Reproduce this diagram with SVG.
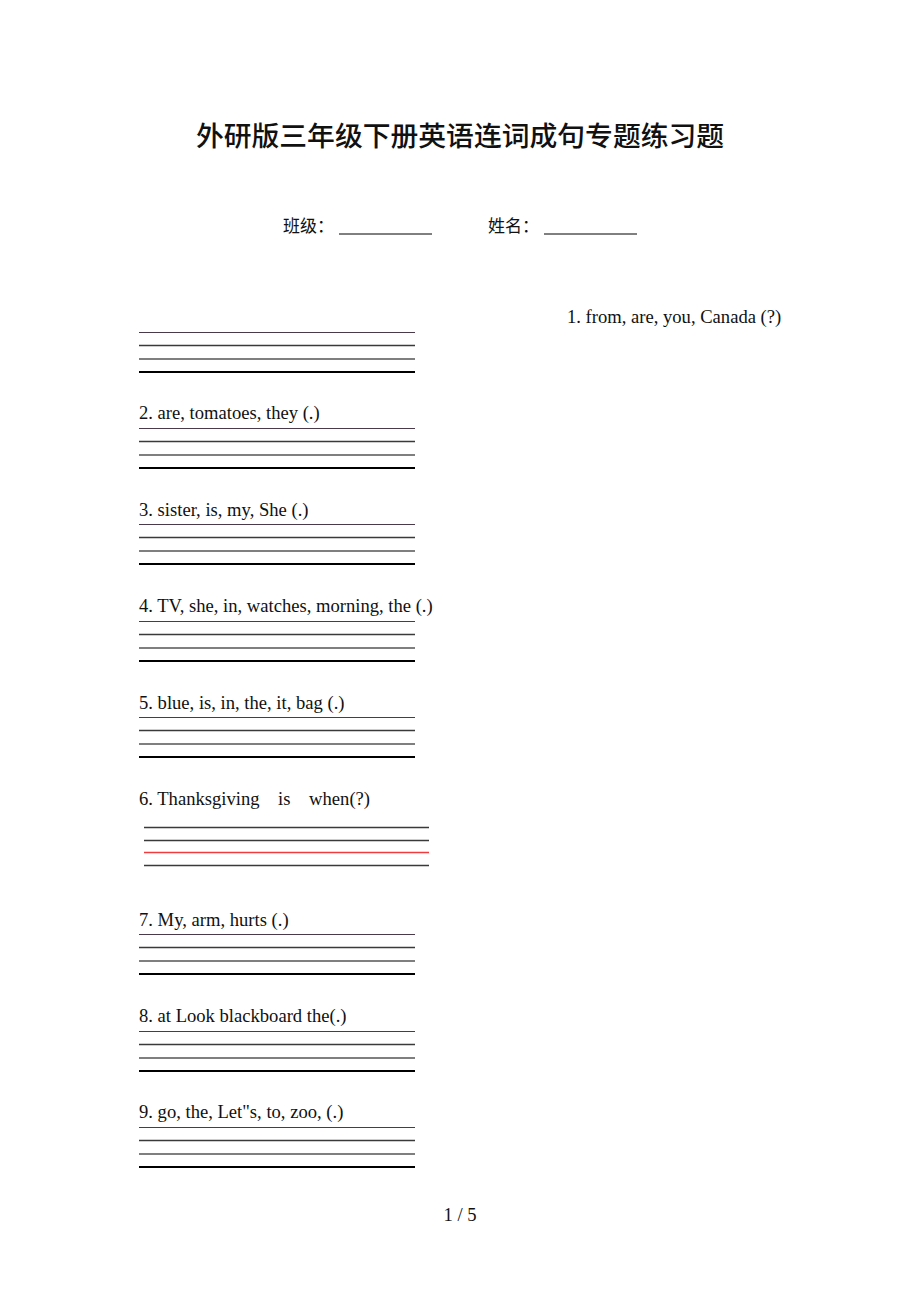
<svg xmlns="http://www.w3.org/2000/svg" width="920" height="1302" viewBox="0 0 920 1302">
<style>
.t{font-family:"Liberation Serif","Times New Roman",serif;font-size:18.6px;fill:#111}
.cn{font-family:"Noto Sans CJK SC",sans-serif;fill:#111}
.l1{stroke:#4a3a4a;stroke-width:1}
.l2{stroke:#3a3a3a;stroke-width:1.5}
.l3{stroke:#555;stroke-width:1.5}
.l4{stroke:#000;stroke-width:2}
.lr{stroke:#f03c3c;stroke-width:1.5}
</style>
<rect width="920" height="1302" fill="#fff"/>
<g id="title"><text class="cn" x="460" y="146" font-size="27.8" font-weight="500" text-anchor="middle">外研版三年级下册英语连词成句专题练习题</text></g>
<g id="info">
<text class="cn" x="283" y="232" font-size="17">班级：</text>
<line x1="339" y1="234" x2="432" y2="234" stroke="#000" stroke-width="1"/>
<text class="cn" x="488" y="232" font-size="17">姓名：</text>
<line x1="544" y1="234" x2="637" y2="234" stroke="#000" stroke-width="1"/>
</g>
<g id="q1">
<text class="t" x="567" y="323">1. from, are, you, Canada (?)</text>
<line class="l1" x1="139" y1="332.5" x2="415" y2="332.5"/>
<line class="l2" x1="139" y1="345.5" x2="415" y2="345.5"/>
<line class="l3" x1="139" y1="359" x2="415" y2="359"/>
<line class="l4" x1="139" y1="372" x2="415" y2="372"/>
</g>
<g id="q2">
<text class="t" x="139" y="419">2. are, tomatoes, they (.)</text>
<line class="l1" x1="139" y1="428.5" x2="415" y2="428.5"/>
<line class="l2" x1="139" y1="441.5" x2="415" y2="441.5"/>
<line class="l3" x1="139" y1="455" x2="415" y2="455"/>
<line class="l4" x1="139" y1="468" x2="415" y2="468"/>
</g>
<g id="q3">
<text class="t" x="139" y="516">3. sister, is, my, She (.)</text>
<line class="l1" x1="139" y1="524.5" x2="415" y2="524.5"/>
<line class="l2" x1="139" y1="537.5" x2="415" y2="537.5"/>
<line class="l3" x1="139" y1="551" x2="415" y2="551"/>
<line class="l4" x1="139" y1="564" x2="415" y2="564"/>
</g>
<g id="q4">
<text class="t" x="139" y="612">4. TV, she, in, watches, morning, the (.)</text>
<line class="l1" x1="139" y1="621.5" x2="415" y2="621.5"/>
<line class="l2" x1="139" y1="634.5" x2="415" y2="634.5"/>
<line class="l3" x1="139" y1="648" x2="415" y2="648"/>
<line class="l4" x1="139" y1="661" x2="415" y2="661"/>
</g>
<g id="q5">
<text class="t" x="139" y="709">5. blue, is, in, the, it, bag (.)</text>
<line class="l1" x1="139" y1="717.5" x2="415" y2="717.5"/>
<line class="l2" x1="139" y1="730.5" x2="415" y2="730.5"/>
<line class="l3" x1="139" y1="744" x2="415" y2="744"/>
<line class="l4" x1="139" y1="757" x2="415" y2="757"/>
</g>
<g id="q6">
<text class="t" x="139" y="805" xml:space="preserve">6. Thanksgiving    is    when(?)</text>
<line class="l2" x1="144" y1="827.5" x2="429" y2="827.5"/>
<line class="l2" x1="144" y1="840.5" x2="429" y2="840.5"/>
<line class="lr" x1="144" y1="852.5" x2="429" y2="852.5"/>
<line class="l2" x1="144" y1="865.5" x2="429" y2="865.5"/>
</g>
<g id="q7">
<text class="t" x="139" y="926">7. My, arm, hurts (.)</text>
<line class="l1" x1="139" y1="934.5" x2="415" y2="934.5"/>
<line class="l2" x1="139" y1="947.5" x2="415" y2="947.5"/>
<line class="l3" x1="139" y1="961" x2="415" y2="961"/>
<line class="l4" x1="139" y1="974" x2="415" y2="974"/>
</g>
<g id="q8">
<text class="t" x="139" y="1022">8. at Look blackboard the(.)</text>
<line class="l1" x1="139" y1="1031.5" x2="415" y2="1031.5"/>
<line class="l2" x1="139" y1="1044.5" x2="415" y2="1044.5"/>
<line class="l3" x1="139" y1="1058" x2="415" y2="1058"/>
<line class="l4" x1="139" y1="1071" x2="415" y2="1071"/>
</g>
<g id="q9">
<text class="t" x="139" y="1118">9. go, the, Let"s, to, zoo, (.)</text>
<line class="l1" x1="139" y1="1127.5" x2="415" y2="1127.5"/>
<line class="l2" x1="139" y1="1140.5" x2="415" y2="1140.5"/>
<line class="l3" x1="139" y1="1154" x2="415" y2="1154"/>
<line class="l4" x1="139" y1="1167" x2="415" y2="1167"/>
</g>
<g id="footer"><text class="t" x="460" y="1221" text-anchor="middle">1 / 5</text></g>
</svg>
